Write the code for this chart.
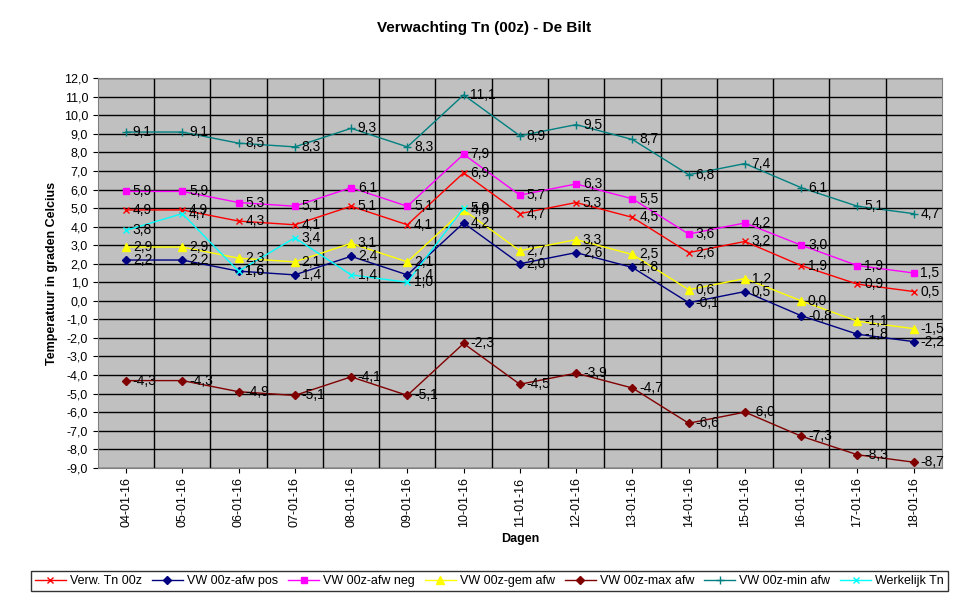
import numpy as np, pandas as pd, matplotlib
matplotlib.use("Agg")
import matplotlib.pyplot as plt, seaborn as sns

dates = ["04-01-16","05-01-16","06-01-16","07-01-16","08-01-16","09-01-16","10-01-16","11-01-16",
         "12-01-16","13-01-16","14-01-16","15-01-16","16-01-16","17-01-16","18-01-16"]
verw = [4.9,4.9,4.3,4.1,5.1,4.1,6.9,4.7,5.3,4.5,2.6,3.2,1.9,0.9,0.5]
afw_pos = [2.2,2.2,1.6,1.4,2.4,1.4,4.2,2.0,2.6,1.8,-0.1,0.5,-0.8,-1.8,-2.2]
afw_neg = [5.9,5.9,5.3,5.1,6.1,5.1,7.9,5.7,6.3,5.5,3.6,4.2,3.0,1.9,1.5]
gem_afw = [2.9,2.9,2.3,2.1,3.1,2.1,4.9,2.7,3.3,2.5,0.6,1.2,0.0,-1.1,-1.5]
max_afw = [-4.3,-4.3,-4.9,-5.1,-4.1,-5.1,-2.3,-4.5,-3.9,-4.7,-6.6,-6.0,-7.3,-8.3,-8.7]
min_afw = [9.1,9.1,8.5,8.3,9.3,8.3,11.1,8.9,9.5,8.7,6.8,7.4,6.1,5.1,4.7]
werkelijk = [3.8,4.7,1.6,3.4,1.4,1.0,5.0] + [np.nan]*8

series = [
    ("Verw. Tn 00z", verw, "#FF0000", "x", 4),
    ("VW 00z-afw pos", afw_pos, "#000080", "D", 4),
    ("VW 00z-afw neg", afw_neg, "#FF00FF", "s", 5),
    ("VW 00z-gem afw", gem_afw, "#FFFF00", "^", 6),
    ("VW 00z-max afw", max_afw, "#800000", "D", 4),
    ("VW 00z-min afw", min_afw, "#008080", "+", 6),
    ("Werkelijk Tn", werkelijk, "#00FFFF", "x", 4),
]

plt.rcParams['font.family'] = ['Liberation Sans', 'DejaVu Sans']
fig = plt.figure(figsize=(9.69, 6.02), dpi=100)
ax = fig.add_axes([0.101, 0.223, 0.871, 0.647])
ax.set_facecolor("#C0C0C0")
x = np.arange(len(dates))
for name, vals, col, mk, ms in series:
    df = pd.DataFrame({"x": x, "y": vals}).dropna()
    sns.lineplot(data=df, x="x", y="y", ax=ax, color=col, marker=mk, markersize=ms,
                 markeredgecolor=col, markeredgewidth=1.0, linewidth=1, label=name, sort=False)
    for xi, yi in zip(df["x"], df["y"]):
        ax.text(xi + 0.12, yi, f"{yi:.1f}".replace(".", ","), fontsize=10, va="center", ha="left")

ax.set_xlim(-0.5, 14.5)
ax.set_ylim(-9, 12)
ax.set_yticks(np.arange(-9, 13, 1))
ax.set_yticklabels([f"{v:.1f}".replace(".", ",") for v in np.arange(-9, 13, 1)], fontsize=9)
ax.set_xticks(x)
ax.set_xticklabels(dates, rotation=90, fontsize=9)
for yy in np.arange(-9, 13, 1):
    ax.axhline(yy, color="black", lw=1, zorder=0.5)
for xx in np.arange(0.5, 14.5, 1):
    ax.axvline(xx, color="black", lw=1, zorder=0.5)
for s in ax.spines.values():
    s.set_color("#808080")
ax.set_xlabel("Dagen", fontsize=9, fontweight="bold")
ax.set_ylabel("Temperatuur in graden Celcius", fontsize=9, fontweight="bold")
fig.suptitle("Verwachting Tn (00z) - De Bilt", fontsize=11, fontweight="bold", y=0.965)
h, l = ax.get_legend_handles_labels()
ax.get_legend().remove()
fig.legend(h, l, loc="center", bbox_to_anchor=(0.505, 0.035), ncol=7, fontsize=9, frameon=True,
           fancybox=False, edgecolor="black", handlelength=2.5, columnspacing=0.8,
           handletextpad=0.3, borderpad=0.3)
fig.savefig("out.png", dpi=100)
